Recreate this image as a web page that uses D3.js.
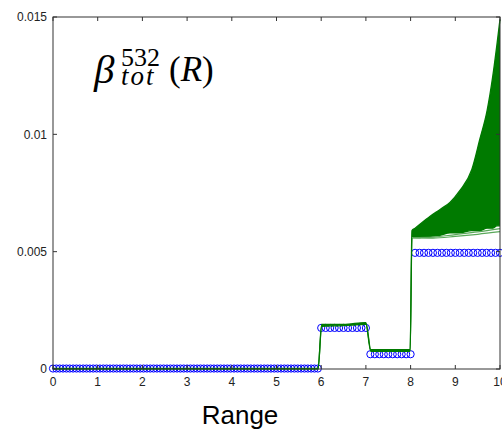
<!DOCTYPE html>
<html>
<head>
<meta charset="utf-8">
<script src="https://cdn.jsdelivr.net/npm/d3@7"></script>
<style>
  body { margin: 0; background: #fff; }
  svg { display: block; }
  .sans { font-family: 'Liberation Sans', Arial, sans-serif; }
  .serif { font-family: 'Liberation Serif', 'Times New Roman', serif; }
</style>
</head>
<body>
<div id="chart"></div>
<script>
// x / y ticks
var xTicks = [0, 1, 2, 3, 4, 5, 6, 7, 8, 9, 10];
var yTicks = [0, 0.005, 0.01, 0.015];
var yTickLabels = ["0", "0.005", "0.01", "0.015"];

// blue circles: step profile, one segment per layer
var stepStart = [0, 6.0, 7.1, 8.1];
var stepEnd = [5.95, 7.0, 8.0, 10.0];
var stepSpacing = [0.075, 0.1, 0.1, 0.1];
var stepValue = [0.00002, 0.00175, 0.00063, 0.00495];

// green ensemble: lower / upper envelope of the retrieved profiles
var greenX    = [0, 5.93, 6.01, 6.5, 7.0, 7.11, 7.5, 7.99, 8.03, 8.1, 8.43, 8.66, 8.88, 9.1, 9.37, 9.55, 9.71, 9.84, 9.93, 10];
var greenLow  = [0, 0, 0.00182, 0.00185, 0.0019, 0.00075, 0.00075, 0.00075, 0.0056, 0.0056, 0.00565, 0.0057, 0.0058, 0.0058, 0.0059, 0.0059, 0.006, 0.006, 0.0061, 0.0061];
var greenHigh = [0.00003, 0.00003, 0.0019, 0.0019, 0.00198, 0.00082, 0.00082, 0.00082, 0.0059, 0.006, 0.0065, 0.0068, 0.0071, 0.0076, 0.0085, 0.0098, 0.011, 0.0125, 0.0138, 0.0149];

// a couple of paler members that drift just below the band
var paleX = [8.03, 8.5, 9.0, 9.5, 10];
var paleA = [0.0056, 0.00562, 0.00573, 0.00584, 0.00598];
var paleB = [0.0056, 0.00558, 0.00565, 0.00574, 0.00585];

var margin = {top: 17, right: 2, bottom: 61, left: 53},
    W = 502, H = 430,
    width = W - margin.left - margin.right,
    height = H - margin.top - margin.bottom;

var svg = d3.select("#chart").append("svg")
    .attr("width", W)
    .attr("height", H);

var g = svg.append("g")
    .attr("transform", "translate(" + margin.left + "," + margin.top + ")");

var xScale = d3.scaleLinear().domain([0, 10]).range([0, width]);
var yScale = d3.scaleLinear().domain([0, 0.015]).range([height, 0]);

// blue circles
var blue = [];
stepStart.forEach(function(s, i) {
    d3.range(s, stepEnd[i] + 1e-9, stepSpacing[i]).forEach(function(x) {
        blue.push({x: x, y: stepValue[i]});
    });
});

g.append("g").selectAll("circle")
    .data(blue)
    .enter()
    .append("circle")
    .attr("cx", function(d) { return xScale(d.x); })
    .attr("cy", function(d) { return yScale(d.y); })
    .attr("r", 3.6)
    .attr("fill", "none")
    .attr("stroke", "#0000ff")
    .attr("stroke-width", 1);

// green band
var band = greenX.map(function(x, i) { return {x: x, lo: greenLow[i], hi: greenHigh[i]}; });
var green = "#007a00";

g.append("path")
    .datum(band)
    .attr("d", d3.area()
        .curve(d3.curveMonotoneX)
        .x(function(d) { return xScale(d.x); })
        .y0(function(d) { return yScale(d.lo); })
        .y1(function(d) { return yScale(d.hi); }))
    .attr("fill", green);

var lineLo = d3.line().curve(d3.curveMonotoneX)
    .x(function(d) { return xScale(d.x); }).y(function(d) { return yScale(d.lo); });
var lineHi = d3.line().curve(d3.curveMonotoneX)
    .x(function(d) { return xScale(d.x); }).y(function(d) { return yScale(d.hi); });

g.append("path").datum(band).attr("d", lineLo)
    .attr("fill", "none").attr("stroke", green).attr("stroke-width", 1.3);
g.append("path").datum(band).attr("d", lineHi)
    .attr("fill", "none").attr("stroke", green).attr("stroke-width", 1.3);

[paleA, paleB].forEach(function(vals) {
    g.append("path")
        .datum(paleX.map(function(x, i) { return {x: x, lo: vals[i]}; }))
        .attr("d", lineLo)
        .attr("fill", "none")
        .attr("stroke", "#5aa85a")
        .attr("stroke-width", 1.2);
});

// box + inward ticks
var axisColor = "#333";
g.append("rect")
    .attr("width", width).attr("height", height)
    .attr("fill", "none").attr("stroke", axisColor).attr("stroke-width", 1);

var tickLen = 4;
g.append("g").selectAll("line").data(xTicks).enter().append("line")
    .attr("x1", function(d) { return xScale(d); }).attr("x2", function(d) { return xScale(d); })
    .attr("y1", height).attr("y2", height - tickLen)
    .attr("stroke", axisColor);
g.append("g").selectAll("line").data(xTicks).enter().append("line")
    .attr("x1", function(d) { return xScale(d); }).attr("x2", function(d) { return xScale(d); })
    .attr("y1", 0).attr("y2", tickLen)
    .attr("stroke", axisColor);
g.append("g").selectAll("line").data(yTicks).enter().append("line")
    .attr("x1", 0).attr("x2", tickLen)
    .attr("y1", function(d) { return yScale(d); }).attr("y2", function(d) { return yScale(d); })
    .attr("stroke", axisColor);
g.append("g").selectAll("line").data(yTicks).enter().append("line")
    .attr("x1", width).attr("x2", width - tickLen)
    .attr("y1", function(d) { return yScale(d); }).attr("y2", function(d) { return yScale(d); })
    .attr("stroke", axisColor);

// tick labels
g.append("g").selectAll("text").data(xTicks).enter().append("text")
    .attr("class", "sans")
    .attr("x", function(d) { return xScale(d); })
    .attr("y", height + 17)
    .attr("text-anchor", "middle")
    .attr("font-size", "12px")
    .attr("fill", "#222")
    .text(function(d) { return d; });

g.append("g").selectAll("text").data(yTicks).enter().append("text")
    .attr("class", "sans")
    .attr("x", -6)
    .attr("y", function(d) { return yScale(d); })
    .attr("dy", "0.35em")
    .attr("text-anchor", "end")
    .attr("font-size", "12px")
    .attr("fill", "#222")
    .text(function(d, i) { return yTickLabels[i]; });

// x label
svg.append("text")
    .attr("class", "sans")
    .attr("x", 240)
    .attr("y", 424)
    .attr("text-anchor", "middle")
    .attr("font-size", "26px")
    .attr("fill", "#000")
    .text("Range");

// in-plot label  beta_tot^532(R)
svg.append("text").attr("class", "serif").attr("x", 94).attr("y", 83)
    .attr("font-size", "41px").attr("font-style", "italic")
    .text("β");
svg.append("text").attr("class", "serif").attr("x", 121).attr("y", 66)
    .attr("font-size", "26px")
    .text("532");
svg.append("text").attr("class", "serif").attr("x", 121).attr("y", 85)
    .attr("font-size", "27px").attr("font-style", "italic")
    .attr("letter-spacing", "2px")
    .text("tot");
var rt = svg.append("text").attr("class", "serif").attr("x", 169).attr("y", 81)
    .attr("font-size", "35px");
rt.append("tspan").text("(");
rt.append("tspan").attr("font-style", "italic").text("R");
rt.append("tspan").text(")");
</script>
</body>
</html>
